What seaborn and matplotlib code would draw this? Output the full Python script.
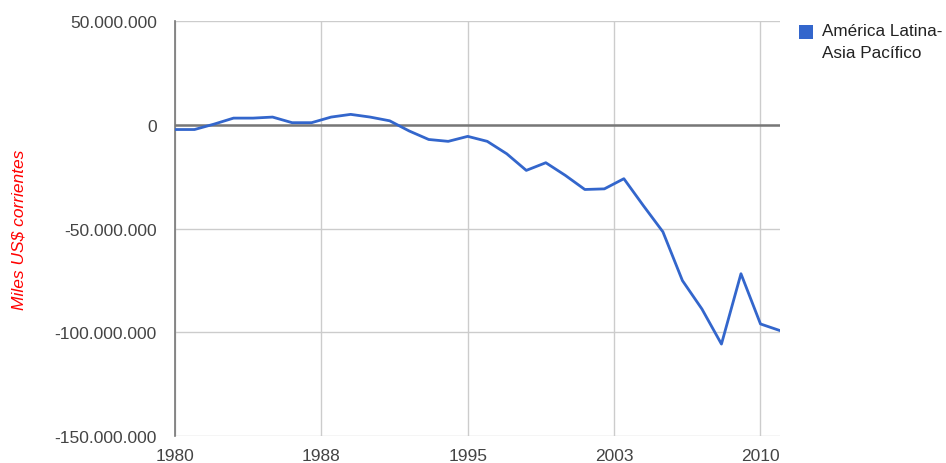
import matplotlib
matplotlib.use("Agg")
import matplotlib.pyplot as plt
import seaborn as sns
import pandas as pd
from matplotlib.ticker import FuncFormatter, FixedLocator

years = list(range(1980, 2012))
balance = [-2.3, -2.3, 0.3, 3.2, 3.2, 3.7, 1.0, 1.0, 3.7, 5.0, 3.7, 1.9,
           -3.0, -7.1, -8.0, -5.6, -8.0, -14.0, -22.0, -18.3, -24.4, -31.2,
           -30.9, -26.0, -39.0, -51.6, -75.1, -88.8, -105.7, -71.8, -96.0, -99.2]
balance = [v * 1e6 for v in balance]
series_name = "América Latina-\nAsia Pacífico"
x_ticks = [1980, 1987.5, 1995, 2002.5, 2010]
y_ticks = [50e6, 0, -50e6, -100e6, -150e6]

df = pd.DataFrame({"Año": years, "Valor": balance, "Serie": series_name})

sns.set_theme(style="white")
plt.rcParams['font.family'] = ['Liberation Sans', 'DejaVu Sans']

fig = plt.figure(figsize=(9.46, 4.64), dpi=100)
ax = fig.add_axes([175/946, 1-437/464, (780-175)/946, (437-22)/464])

sns.lineplot(data=df, x="Año", y="Valor", hue="Serie", palette=["#3366cc"],
             linewidth=2.0, ax=ax, legend=False, zorder=3)

ax.set_xlim(1980, 2011)
ax.set_ylim(-150e6, 50e6)
ax.xaxis.set_major_locator(FixedLocator(x_ticks))
ax.yaxis.set_major_locator(FixedLocator(y_ticks))
ax.xaxis.set_major_formatter(FuncFormatter(lambda v, p: f"{int(round(v + 0.001))}"))
ax.yaxis.set_major_formatter(FuncFormatter(lambda v, p: f"{int(v):,}".replace(",", ".")))
ax.grid(True, color="#cccccc", linewidth=1.0, zorder=0)
ax.axhline(0, color="#777777", linewidth=1.8, zorder=2)
for s in ["top", "right", "bottom"]:
    ax.spines[s].set_visible(False)
ax.spines["left"].set_color("#777777")
ax.spines["left"].set_linewidth(1.2)
ax.tick_params(axis="both", length=0, labelsize=12.5, colors="#444444")
ax.tick_params(axis="x", pad=9)
ax.tick_params(axis="y", pad=13)
ax.set_xlabel("")
ax.set_ylabel("Miles US$ corrientes", color="red", fontstyle="italic", fontsize=12.5)
ax.yaxis.set_label_coords(-0.245, 0.5)

fig.patches.append(plt.Rectangle((799/946, 1-40/464), 14/946, 14/464, transform=fig.transFigure,
                                 facecolor="#3366cc", edgecolor="none"))
fig.text(822/946, 1-32/464, "América Latina-", fontsize=12.3, color="#222222", va="center")
fig.text(822/946, 1-54/464, "Asia Pacífico", fontsize=12.3, color="#222222", va="center")

fig.savefig("out.png", dpi=100)
